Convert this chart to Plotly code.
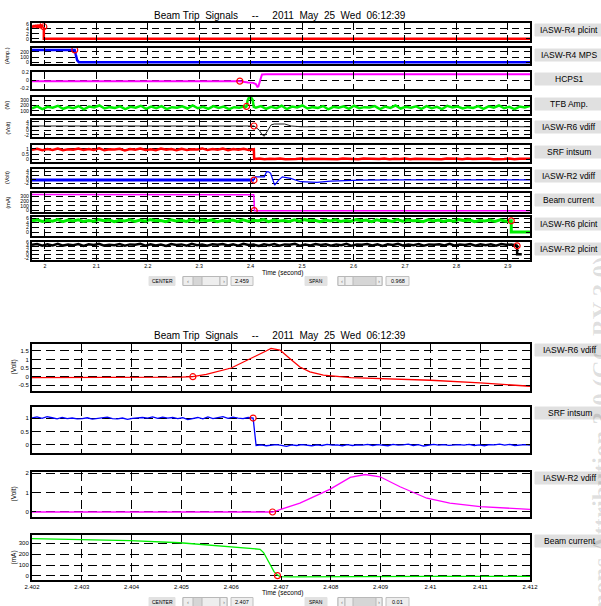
import numpy as np
import plotly.graph_objects as go

W, H = 601, 606

# ======================= DATA =======================
title_text = "Beam Trip  Signals     --     2011  May  25  Wed  06:12:39"

top_xrange = [1.975, 2.943]
top_xtick_vals = [2.0, 2.1, 2.2, 2.3, 2.4, 2.5, 2.6, 2.7, 2.8, 2.9]
top_xtick_text = ["2", "2.1", "2.2", "2.3", "2.4", "2.5", "2.6", "2.7", "2.8", "2.9"]
top_center, top_span = "2.459", "0.968"

bot_xrange = [2.402, 2.412]
bot_xtick_vals = [2.402, 2.403, 2.404, 2.405, 2.406, 2.407, 2.408, 2.409, 2.410, 2.411, 2.412]
bot_xtick_text = ["2.402", "2.403", "2.404", "2.405", "2.406", "2.407", "2.408", "2.409", "2.41", "2.411", "2.412"]
bot_center, bot_span = "2.407", "0.01"

top_names = ["IASW-R4 plcint", "IASW-R4 MPS", "HCPS1", "TFB Amp.", "IASW-R6 vdiff",
             "SRF intsum", "IASW-R2 vdiff", "Beam current", "IASW-R6 plcint", "IASW-R2 plcint"]
top_units = ["", "(Amp.)", "", "(W)", "(Volt)", "", "(Volt)", "(mA)", "", ""]
top_yticks = [[0, 2, 4, 6], [0, 100, 200], [-0.2, 0, 0.2], [100, 200, 300], [-2, 0, 2, 4],
              [0, 0.5, 1], [-2, 0, 2, 4], [0, 100, 200, 300], [0, 2, 4, 6], [-2, 0, 2, 4, 6]]
top_yranges = [[-0.9, 6.3], [-25, 268], [-0.215, 0.215], [45, 355], [-2.95, 4.77],
               [-0.26, 1.38], [-3.9, 5.3], [-36, 373], [-1.75, 6.57], [-2.9, 6.1]]

bot_names = ["IASW-R6 vdiff", "SRF intsum", "IASW-R2 vdiff", "Beam current"]
bot_units = ["(Volt)", "", "(Volt)", "(mA)"]
bot_yticks = [[-0.5, 0, 0.5, 1, 1.5], [0, 0.5, 1], [0, 1, 2], [0, 100, 200, 300]]
bot_yranges = [[-0.85, 1.91], [-0.3, 1.41], [-0.28, 2.07], [-37, 376]]

# --- top 1: IASW-R4 plcint (red)
r4plc_noise = [5.3, 4.6, 5.4, 4.7, 5.5, 4.5, 5.2, 4.8, 5.4, 4.6, 5.1, 4.8]
r4plc_tail_t = [1.998, 1.998, 2.943]
r4plc_tail_v = [4.8, 0.0, 0.0]
r4plc_trip = (1.998, 4.8)

# --- top 2: IASW-R4 MPS (blue)
r4mps_t = [1.975, 2.058, 2.060, 2.063, 2.066, 2.943]
r4mps_v = [232, 232, 150, 40, 8, 8]
r4mps_trip = (2.058, 232)

# --- top 3: HCPS1 (magenta)
hcps_t = [1.975, 2.379, 2.395, 2.405, 2.410, 2.413, 2.415, 2.418, 2.422, 2.430, 2.943]
hcps_v = [-0.016, -0.018, -0.05, -0.06, -0.09, -0.16, -0.15, -0.02, 0.15, 0.155, 0.155]
hcps_trip = (2.379, -0.016)

# --- top 4: TFB Amp. (green)
tfb_before = [150, 185, 135, 175, 160, 195, 140, 170, 150, 190, 130, 180, 165, 200, 145, 170, 155, 185, 135, 175,
              160, 195, 140, 180, 150, 190, 135, 170, 160, 185, 145, 200, 150, 175, 140, 190, 155, 180, 135, 170,
              160, 185]
tfb_bump_t = [2.390, 2.392, 2.394, 2.396, 2.399, 2.402, 2.404, 2.406]
tfb_bump_v = [170, 183, 290, 330, 338, 330, 300, 175]
tfb_after = [160, 190, 140, 175, 150, 195, 135, 180, 165, 200, 145, 170, 155, 190, 130, 175, 160, 185, 140, 195,
             150, 170, 165, 190, 135, 180, 155, 200, 145, 175, 160, 185, 140, 190, 150, 175, 135, 195, 165, 180,
             145, 170, 155, 190, 140, 185, 160, 200, 150, 175, 135, 180, 165, 190]
tfb_trip = (2.392, 183)

# --- top 5: IASW-R6 vdiff (black)
r6vd_t = [1.975, 2.4065, 2.4165, 2.4220, 2.4265, 2.4330, 2.4395, 2.4460, 2.4660, 2.4790, 2.4980, 2.6, 2.943]
r6vd_v = [2.05, 2.05, 0.23, -1.8, -2.6, -0.23, 2.5, 2.95, 2.95, 2.05, 1.7, 1.75, 1.7]
r6vd_trip = (2.4065, 2.05)

# --- top 6: SRF intsum (red)
srf_before = [0.92, 1.02, 0.88, 0.99, 0.90, 1.04, 0.87, 0.97, 0.93, 1.03, 0.89, 1.00, 0.91, 1.05, 0.88, 0.98,
              0.94, 1.02, 0.86, 0.99, 0.92, 1.04, 0.90, 0.97, 0.88, 1.03, 0.93, 1.00, 0.87, 1.02, 0.91, 0.98,
              0.94, 1.05, 0.89, 0.99, 0.92, 1.03, 0.88, 1.00, 0.93, 1.02, 0.90, 0.97]
srf_after = [0.03, 0.07, 0.01, 0.06, 0.02, 0.08, 0.00, 0.05, 0.03, 0.07, 0.01, 0.06, 0.04, 0.08, 0.02, 0.05,
             0.00, 0.07, 0.03, 0.06, 0.01, 0.08, 0.04, 0.05, 0.02, 0.07, 0.00, 0.06, 0.03, 0.08, 0.01, 0.05,
             0.04, 0.07, 0.02, 0.06, 0.00, 0.08, 0.03, 0.05, 0.01, 0.07, 0.04, 0.06, 0.02, 0.08, 0.00, 0.05,
             0.03, 0.07, 0.01, 0.06, 0.04, 0.05]

# --- top 7: IASW-R2 vdiff (blue)
r2vd_flat_t = [1.975, 2.4065]
r2vd_flat_v = [-0.35, -0.35]
r2vd_t = [2.4065, 2.409, 2.4265, 2.431, 2.435, 2.4388, 2.4466, 2.454, 2.4615, 2.4777, 2.4971, 2.529, 2.555,
          2.613, 2.70, 2.80, 2.943]
r2vd_v = [-0.35, 1.3, 1.3, 3.9, 3.8, 3.1, -2.9, -0.5, 1.3, 0.5, -1.2, -1.5, -0.9, -0.35, -0.3, -0.35, -0.3]
r2vd_trip = (2.4065, -0.35)

# --- top 8: Beam current (magenta)
beam_t = [1.975, 2.4060, 2.4065, 2.4070, 2.4075, 2.943]
beam_v = [340, 335, 240, 20, -10, -10]
beam_trip = (2.4069, -5)

# --- top 9: IASW-R6 plcint (green)
r6plc_noise = [4.9, 5.3, 4.6, 5.1, 4.7, 5.4, 4.5, 5.2, 4.8, 5.3, 4.6, 5.0, 4.7, 5.4, 4.9, 5.2, 4.5, 5.1, 4.8, 5.3,
               4.6, 5.2, 4.7, 5.4, 4.9, 5.0, 4.5, 5.3, 4.8, 5.1, 4.6, 5.4, 4.7, 5.2, 4.9, 5.3, 4.5, 5.0, 4.8, 5.2,
               4.6, 5.3, 4.7, 5.1, 4.9, 5.4, 4.5, 5.2, 4.8, 5.0, 4.6, 5.3, 4.7, 5.4, 4.9, 5.1, 4.5, 5.2, 4.8, 5.3,
               4.6, 5.0, 4.7, 5.4, 4.9, 5.2, 4.5, 5.3, 4.8, 5.1, 4.6, 5.4, 4.7, 5.2, 4.9, 5.0, 4.5, 5.3, 4.8, 5.2,
               4.6, 5.1, 4.7, 5.4, 4.9, 5.3, 4.5, 5.0, 4.8, 5.2, 4.6, 5.3, 4.7, 5.0]
r6plc_tail_t = [2.9066, 2.9066, 2.943]
r6plc_tail_v = [4.9, 0.0, 0.0]
r6plc_trip = (2.9066, 4.9)

# --- top 10: IASW-R2 plcint (black)
r2plc_noise = [4.7, 5.1, 4.2, 4.9, 4.4, 5.2, 4.3, 4.8, 4.5, 5.1, 4.1, 5.0, 4.6, 5.2, 4.3, 4.7, 4.5, 5.1, 4.2, 4.9,
               4.7, 5.2, 4.3, 5.0, 4.4, 4.8, 4.1, 5.1, 4.6, 4.9, 4.3, 5.2, 4.5, 4.8, 4.2, 5.0, 4.7, 5.1, 4.4, 4.9,
               4.3, 5.2, 4.6, 4.8, 4.1, 5.0, 4.5, 5.1, 4.3, 4.9, 4.7, 5.2, 4.2, 4.8, 4.4, 5.1, 4.6, 5.0, 4.3, 4.9,
               4.5, 5.2, 4.2, 4.8, 4.7, 5.1, 4.4, 4.9, 4.1, 5.0, 4.6, 5.2, 4.3, 4.8, 4.5, 5.1, 4.2, 4.9, 4.7, 5.0,
               4.4, 5.2, 4.3, 4.8, 4.6, 5.1, 4.2, 4.9, 4.5, 5.0, 4.3, 5.1, 4.7, 4.9, 4.4]
r2plc_tail_t = [2.918, 2.918, 2.927]
r2plc_tail_v = [4.2, 0.0, 0.0]
r2plc_trip = (2.918, 4.2)

# --- bottom A: IASW-R6 vdiff zoom (red)
zr6_t = [2.402, 2.4035, 2.4050, 2.40523, 2.4055, 2.4060, 2.4064, 2.4067, 2.4068, 2.40698, 2.4072, 2.40738,
         2.40758, 2.40785, 2.4084, 2.4090, 2.4100, 2.4110, 2.4120]
zr6_v = [-0.07, -0.07, -0.03, -0.01, 0.12, 0.5, 1.05, 1.5, 1.65, 1.55, 1.0, 0.56, 0.27, 0.08, -0.06, -0.12,
         -0.22, -0.37, -0.57]
zr6_trip = (2.40523, -0.01)

# --- bottom B: SRF intsum zoom (blue)
zsrf_before = [1.00, 1.04, 0.99, 1.05, 1.01, 0.97, 1.02, 0.98, 1.00, 0.97, 0.98, 1.01, 0.96, 0.99, 1.00, 1.03,
               0.98, 0.97, 1.00, 0.95, 0.99, 1.00, 1.02, 1.00, 1.04, 0.99, 1.03, 1.00, 1.02, 0.98, 1.01, 0.94,
               0.99, 1.02, 0.97, 1.04, 0.98, 1.01, 1.05, 0.99, 1.03, 1.00, 0.98, 1.02, 1.00]
zsrf_after = [-0.02, 0.00, -0.03, -0.01, 0.01, -0.02, -0.05, 0.00, -0.02, 0.01, -0.01, -0.03, 0.00, -0.02,
              0.02, -0.01, 0.00, -0.03, 0.01, -0.02, 0.00, -0.01, 0.02, -0.02, 0.01, 0.00, -0.03, 0.02, -0.01,
              0.00, 0.03, -0.02, 0.01, -0.04, 0.00, 0.02, -0.01, 0.01, -0.02, 0.00, 0.01, -0.01, 0.02, -0.02,
              0.00, -0.03, 0.01, 0.00, 0.03, -0.01, 0.02, -0.02, 0.00, 0.01, -0.01]
zsrf_trip = (2.40644, 1.0)

# --- bottom C: IASW-R2 vdiff zoom (magenta)
zr2_t = [2.402, 2.40683, 2.40738, 2.40798, 2.40839, 2.40869, 2.40899, 2.40939, 2.40993, 2.41039, 2.41100, 2.41200]
zr2_v = [-0.02, -0.02, 0.44, 1.16, 1.79, 1.94, 1.82, 1.30, 0.70, 0.44, 0.26, 0.12]
zr2_trip = (2.40683, -0.02)

# --- bottom D: Beam current zoom (green)
zbeam_t = [2.402, 2.40296, 2.40397, 2.40497, 2.40598, 2.40658, 2.40665, 2.40671, 2.40676, 2.40681, 2.40686,
           2.40691, 2.40698, 2.4072, 2.4075, 2.4080, 2.4090, 2.4100, 2.4110, 2.4120]
zbeam_v = [342, 333, 324, 305, 269, 245, 215, 162, 115, 71, 40, 16, -6, -8, -7, -6, -5, -4, -3, -3]
zbeam_trip = (2.40693, 3)

# ======================= FIGURE =======================
fig = go.Figure()
layout_axes = {}
annotations = []
shapes = []

PLOT_L, PLOT_R = 32, 530
top_tops = [23, 48, 72, 97, 120, 145, 169, 193, 217, 242]
top_bots = [41, 64, 89, 114, 137, 162, 187, 212, 236, 260]
bot_tops = [344, 407, 472, 535]
bot_bots = [391, 453, 517, 580]

FONT = "Liberation Sans, Arial, sans-serif"


def fx(x):
    return x / W


def fy(y):
    return 1 - y / H


def ann(x, y, text, size, **kw):
    d = dict(xref="paper", yref="paper", x=fx(x), y=fy(y), text=text, showarrow=False,
             xanchor="center", yanchor="middle",
             font=dict(family=FONT, size=size, color=kw.pop("color", "black")))
    d.update(kw)
    annotations.append(d)


def rect(x0, y0, x1, y1, fill, line="#b0b0b0", layer="above"):
    shapes.append(dict(type="rect", xref="paper", yref="paper", x0=fx(x0), x1=fx(x1),
                       y0=fy(y1), y1=fy(y0), fillcolor=fill,
                       line=dict(color=line, width=1), layer=layer))


def fmt(v):
    return f"{v:g}"


def make_panel(i, top, bot, xr, xt, xtl, show_x, yr, yt, fs, dash):
    s = "" if i == 1 else str(i)
    common = dict(ticks="inside", ticklen=4, tickwidth=1, tickcolor="black", showline=True,
                  linecolor="black", linewidth=2, mirror="ticks", showgrid=True, gridcolor="black",
                  gridwidth=1, griddash=dash, zeroline=False, automargin=False, fixedrange=True,
                  tickfont=dict(family=FONT, size=fs, color="black"))
    layout_axes["xaxis" + s] = dict(domain=[fx(PLOT_L), fx(PLOT_R)], range=xr, anchor="y" + s,
                                    tickmode="array", tickvals=xt, ticktext=xtl,
                                    showticklabels=show_x, **common)
    layout_axes["yaxis" + s] = dict(domain=[fy(bot), fy(top)], range=yr, anchor="x" + s,
                                    tickmode="array", tickvals=yt, ticktext=[fmt(v) for v in yt],
                                    **common)
    return ("x" + s, "y" + s)


def line(ax, t, v, color, width):
    fig.add_trace(go.Scatter(x=list(t), y=list(v), mode="lines", line=dict(color=color, width=width),
                             xaxis=ax[0], yaxis=ax[1], hoverinfo="skip"))


def trip(ax, pt):
    fig.add_trace(go.Scatter(x=[pt[0]], y=[pt[1]], mode="markers",
                             marker=dict(symbol="circle-open", color="red", size=6, line=dict(width=1.2)),
                             xaxis=ax[0], yaxis=ax[1], hoverinfo="skip"))


tax = []
for k in range(10):
    tax.append(make_panel(k + 1, top_tops[k], top_bots[k], top_xrange, top_xtick_vals, top_xtick_text,
                          k == 9, top_yranges[k], top_yticks[k], 5.2, "7px,5px"))
bax = []
for k in range(4):
    bax.append(make_panel(11 + k, bot_tops[k], bot_bots[k], bot_xrange, bot_xtick_vals, bot_xtick_text,
                          k == 3, bot_yranges[k], bot_yticks[k], 6, "9px,5px"))

RED, BLUE, MAG, GRN, BLK = "#ff0000", "#0000ff", "#ff00ff", "#00ee00", "#000000"

a = tax[0]
line(a, np.linspace(1.975, 1.997, len(r4plc_noise)), r4plc_noise, RED, 2.5)
line(a, r4plc_tail_t, r4plc_tail_v, RED, 2.5)
trip(a, r4plc_trip)
a = tax[1]
line(a, r4mps_t, r4mps_v, BLUE, 2.5)
trip(a, r4mps_trip)
a = tax[2]
line(a, hcps_t, hcps_v, MAG, 2)
trip(a, hcps_trip)
a = tax[3]
tfb_t = list(np.linspace(1.975, 2.388, len(tfb_before))) + tfb_bump_t + list(np.linspace(2.41, 2.943, len(tfb_after)))
line(a, tfb_t, tfb_before + tfb_bump_v + tfb_after, GRN, 2.5)
trip(a, tfb_trip)
a = tax[4]
line(a, r6vd_t, r6vd_v, "#202020", 1)
trip(a, r6vd_trip)
a = tax[5]
srf_t = list(np.linspace(1.975, 2.4062, len(srf_before))) + list(np.linspace(2.4068, 2.943, len(srf_after)))
line(a, srf_t, srf_before + srf_after, RED, 2.5)
a = tax[6]
line(a, r2vd_flat_t, r2vd_flat_v, BLUE, 3)
line(a, r2vd_t, r2vd_v, BLUE, 1.2)
trip(a, r2vd_trip)
a = tax[7]
line(a, beam_t, beam_v, MAG, 1.5)
trip(a, beam_trip)
a = tax[8]
line(a, list(np.linspace(1.975, 2.905, len(r6plc_noise))) + r6plc_tail_t, r6plc_noise + r6plc_tail_v, GRN, 3)
trip(a, r6plc_trip)
a = tax[9]
line(a, list(np.linspace(1.975, 2.917, len(r2plc_noise))) + r2plc_tail_t, r2plc_noise + r2plc_tail_v, BLK, 2.5)
trip(a, r2plc_trip)

a = bax[0]
line(a, zr6_t, zr6_v, RED, 1.3)
trip(a, zr6_trip)
a = bax[1]
zsrf_t = list(np.linspace(2.402, 2.40644, len(zsrf_before))) + list(np.linspace(2.4065, 2.412, len(zsrf_after)))
line(a, zsrf_t, zsrf_before + zsrf_after, BLUE, 1.3)
trip(a, zsrf_trip)
a = bax[2]
line(a, zr2_t, zr2_v, MAG, 1.3)
trip(a, zr2_trip)
a = bax[3]
line(a, zbeam_t, zbeam_v, GRN, 1.3)
trip(a, zbeam_trip)

# ---------- texts ----------
nb = title_text.replace("  ", "\u00a0\u00a0")
ann(280, 15, nb, 10)
ann(280, 335, nb, 10)

for k in range(10):
    yc = top_tops[k] + 7
    rect(535, yc - 6, 602, yc + 6, "#e0e0e0", "#e0e0e0", layer="below")
    ann(569, yc, top_names[k], 8.5)
    if top_units[k]:
        ann(7, (top_tops[k] + top_bots[k]) / 2, top_units[k], 5.5, textangle=-90)
for k in range(4):
    yc = bot_tops[k] + 6
    rect(535, yc - 6, 602, yc + 6, "#e0e0e0", "#e0e0e0", layer="below")
    ann(570, yc, bot_names[k], 8.5)
    if bot_units[k]:
        ann(13, (bot_tops[k] + bot_bots[k]) / 2, bot_units[k], 6.5, textangle=-90)

ann(282, 273, "Time (second)", 6.5)
ann(282, 593, "Time (second)", 6.5)


def controls(y0, y1, center, span):
    ym = (y0 + y1) / 2
    rect(149, y0, 175, y1, "#e2e2e2", "#e2e2e2")
    ann(162, ym, "CENTER", 5)
    rect(183, y0, 227, y1, "#d6d6d6", "#b8b8b8")
    rect(183, y0, 193, y1, "#eeeeee", "#b8b8b8")
    rect(202, y0, 220, y1, "#eeeeee", "#b8b8b8")
    rect(220, y0, 227, y1, "#eeeeee", "#b8b8b8")
    ann(188, ym, "\u2039", 6, color="#777777")
    ann(223.5, ym, "\u203a", 6, color="#777777")
    rect(231, y0, 253, y1, "#eeeeee", "#c0c0c0")
    ann(242, ym, center, 5.5)
    rect(305, y0, 327, y1, "#e2e2e2", "#e2e2e2")
    ann(316, ym, "SPAN", 5)
    rect(338, y0, 382, y1, "#d6d6d6", "#b8b8b8")
    rect(338, y0, 345, y1, "#eeeeee", "#b8b8b8")
    rect(345, y0, 353, y1, "#eeeeee", "#b8b8b8")
    rect(376, y0, 382, y1, "#eeeeee", "#b8b8b8")
    ann(341.5, ym, "\u2039", 6, color="#777777")
    ann(379, ym, "\u203a", 6, color="#777777")
    rect(386, y0, 409, y1, "#eeeeee", "#c0c0c0")
    ann(397.5, ym, span, 5.5)


controls(276.5, 285.5, top_center, top_span)
controls(597.5, 606.5, bot_center, bot_span)

# watermark (rotated, mostly off the right edge)
annotations.append(dict(xref="paper", yref="paper", x=fx(586), y=fy(255), xanchor="left", yanchor="top",
                        text="<b>Creative Commons Attribution 3.0 (CC BY 3.0)</b>", showarrow=False,
                        textangle=-90,
                        font=dict(family="Liberation Serif, serif", size=25, color="rgba(0,0,0,0.13)")))

fig.update_layout(width=W, height=H, margin=dict(l=0, r=0, t=0, b=0), template="none",
                  paper_bgcolor="white", plot_bgcolor="white", showlegend=False, hovermode=False,
                  annotations=annotations, shapes=shapes, **layout_axes)

fig.write_html("out.html", config={"displayModeBar": False},
               post_script="document.body.style.margin='0';document.body.style.overflow='hidden';")
